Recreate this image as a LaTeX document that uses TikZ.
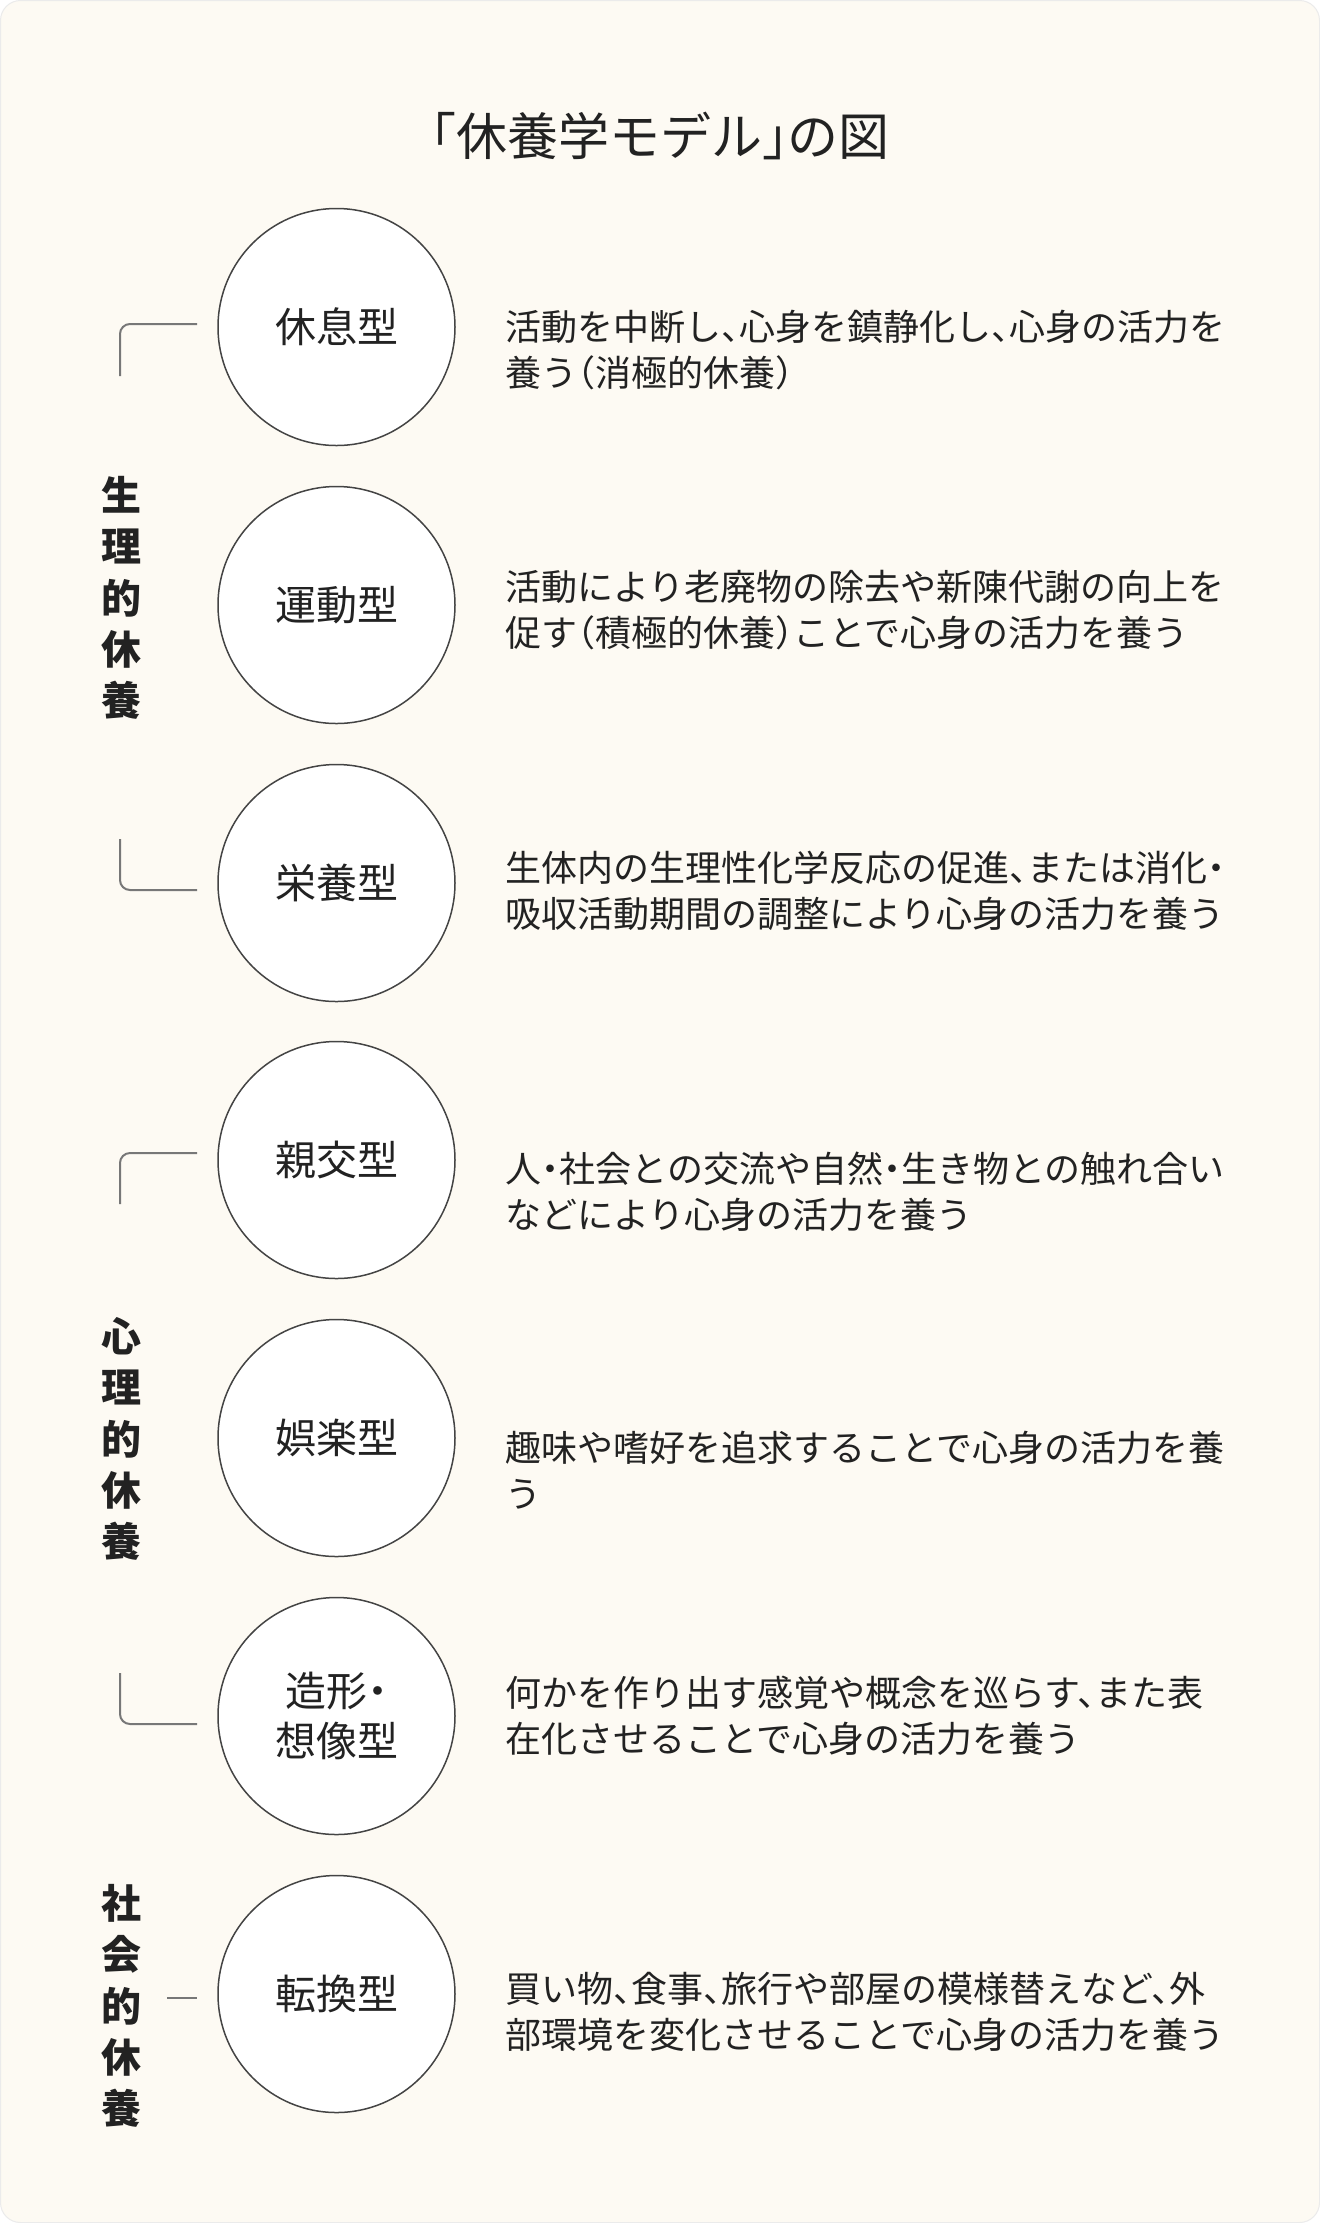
\documentclass[tikz,border=0pt]{standalone}
\usepackage{fontspec}
\setmainfont{Noto Sans CJK JP}
\newfontfamily\haltfont{Noto Sans CJK JP}[RawFeature=+halt]
\definecolor{bgc}{HTML}{FDFAF3}
\definecolor{ink}{HTML}{222222}
\definecolor{ring}{HTML}{444444}
\definecolor{brk}{HTML}{777777}
\begin{document}
\begin{tikzpicture}[x=0.5pt,y=-0.5pt,
  kind/.style={circle,draw=ring,fill=white,line width=0.75pt,minimum size=118.5pt,inner sep=0pt,align=center,font=\haltfont\fontsize{20.5pt}{25pt}\selectfont,text=ink},
  desc/.style={anchor=west,inner sep=0pt,align=left,font=\haltfont\fontsize{18pt}{23pt}\selectfont,text=ink},
  grp/.style={inner sep=0pt,align=center,font=\fontsize{20pt}{25.7pt}\selectfont\bfseries,text=ink},
  brace/.style={draw=brk,line width=1pt,rounded corners=5pt},
  ttl/.style={inner sep=0pt,font=\haltfont\fontsize{25.5pt}{30pt}\selectfont,text=ink}]
\useasboundingbox (0,0) rectangle (1320,2223);
\fill[white] (0,0) rectangle (1320,2223);
\path[fill=bgc,draw=black!8,line width=0.5pt,rounded corners=10pt] (0.5,0.5) rectangle (1319.5,2222.5);

\node[ttl] (title) at (660,136) {「休養学モデル」の図};

\node[kind] (c1) at (336.5,327) {休息型};
\node[kind] (c2) at (336.5,605) {運動型};
\node[kind] (c3) at (336.5,883) {栄養型};
\node[kind] (c4) at (336.5,1160) {親交型};
\node[kind] (c5) at (336.5,1438) {娯楽型};
\node[kind] (c6) at (336.5,1716) {造形・\\想像型};
\node[kind] (c7) at (336.5,1994) {転換型};

\node[desc] (d1) at (505,350) {活動を中断し、心身を鎮静化し、心身の活力を\\養う（消極的休養）};
\node[desc] (d2) at (505,610) {活動により老廃物の除去や新陳代謝の向上を\\促す（積極的休養）ことで心身の活力を養う};
\node[desc] (d3) at (505,891) {生体内の生理性化学反応の促進、または消化・\\吸収活動期間の調整により心身の活力を養う};
\node[desc] (d4) at (505,1192) {人・社会との交流や自然・生き物との触れ合い\\などにより心身の活力を養う};
\node[desc] (d5) at (505,1470) {趣味や嗜好を追求することで心身の活力を養\\う};
\node[desc] (d6) at (505,1716) {何かを作り出す感覚や概念を巡らす、また表\\在化させることで心身の活力を養う};
\node[desc] (d7) at (505,2012) {買い物、食事、旅行や部屋の模様替えなど、外\\部環境を変化させることで心身の活力を養う};

\node[grp] (g1) at (121.5,598) {生\\理\\的\\休\\養};
\node[grp] (g2) at (121.5,1439) {心\\理\\的\\休\\養};
\node[grp] (g3) at (121.5,2006) {社\\会\\的\\休\\養};

\coordinate (b1a) at (197,324);
\coordinate (b1b) at (120,376);
\coordinate (b1c) at (120,839);
\coordinate (b1d) at (197,890);
\coordinate (b2a) at (197,1153);
\coordinate (b2b) at (120,1204);
\coordinate (b2c) at (120,1673);
\coordinate (b2d) at (197,1724);
\coordinate (b3a) at (167,1998);
\coordinate (b3b) at (197,1998);

\draw[brace] (b1a) -| (b1b);
\draw[brace] (b1c) |- (b1d);
\draw[brace] (b2a) -| (b2b);
\draw[brace] (b2c) |- (b2d);
\draw[brace] (b3a) -- (b3b);
\end{tikzpicture}
\end{document}
